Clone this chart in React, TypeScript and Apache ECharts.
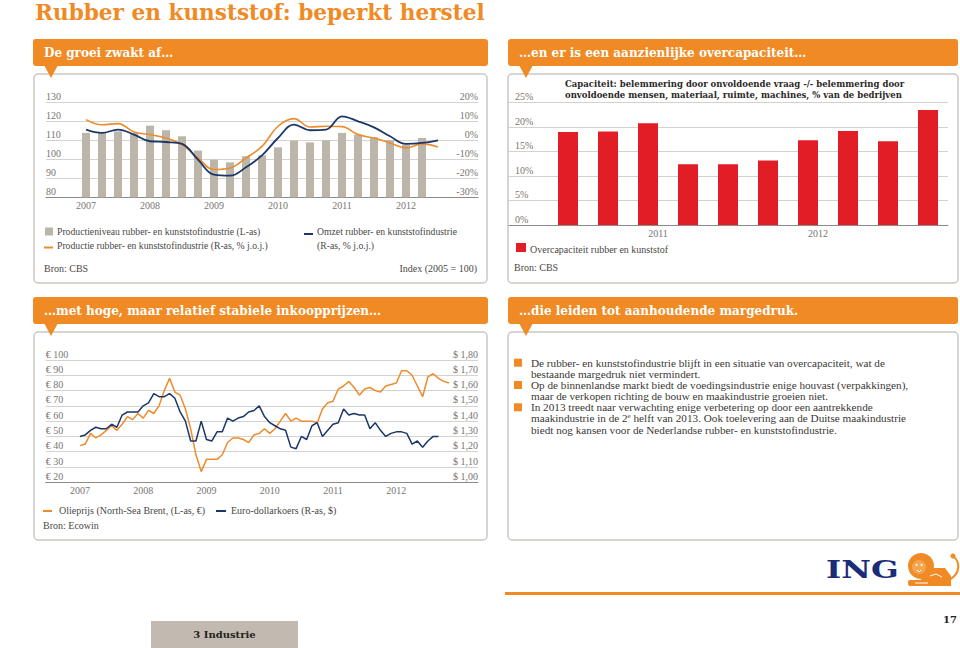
import React, { useEffect, useRef } from "react";
import * as echarts from "echarts";

const ORANGE = "#F08A24";
const NAVY = "#1B3668";
const LINE_ORANGE = "#EE8B2C";
const GRAY_BAR = "#BCB5AA";
const RED = "#E31D25";
const GRID = "#D4D2CE";
const AXIS = "#8E8A84";
const LABEL = "#777470";
const TEXT = "#4A4845";
const SERIF = "'Liberation Serif', 'Times New Roman', serif";
const SLAB = "'DejaVu Serif', serif";

// Panel 1: productie & omzet rubber- en kunststofindustrie
const quarters1 = [
  "2007Q1", "2007Q2", "2007Q3", "2007Q4",
  "2008Q1", "2008Q2", "2008Q3", "2008Q4",
  "2009Q1", "2009Q2", "2009Q3", "2009Q4",
  "2010Q1", "2010Q2", "2010Q3", "2010Q4",
  "2011Q1", "2011Q2", "2011Q3", "2011Q4",
  "2012Q1", "2012Q2", "2012Q3",
];
const productionIndex = [
  113.9, 113.9, 114.7, 113.9, 117.7, 115.3, 112.1, 104.6, 99.8, 98.4, 101.6,
  102.1, 106.3, 109.8, 108.9, 110.0, 113.9, 113.0, 111.6, 110.0, 107.7, 111.2,
];
const productionYoY = [
  10.9, 8.2, 8.8, 4.4, 3.0, 1.2, -2.3, -9.3, -15.4, -14.6, -9.3, -3.2, 7.4,
  11.4, 7.0, 7.4, 7.2, 3.0, 1.2, -1.4, -4.0, -1.9, -3.5,
];
const turnoverYoY = [
  5.6, 3.9, 5.6, 3.0, -0.5, -0.9, -1.9, -10.2, -18.1, -18.6, -14.2, -7.9, 1.2,
  8.2, 5.3, 5.6, 12.6, 10.0, 6.8, 2.1, -1.9, -1.4, 0.0,
];

// Panel 2: overcapaciteit
const quarters2 = [
  "2010Q3", "2010Q4", "2011Q1", "2011Q2", "2011Q3",
  "2011Q4", "2012Q1", "2012Q2", "2012Q3", "2012Q4",
];
const overcapacity = [19.0, 19.1, 20.8, 12.4, 12.4, 13.2, 17.3, 19.2, 17.1, 23.5];

// Panel 3: olieprijs en euro-dollarkoers (maandelijks vanaf jan 2007)
const years3 = ["2007", "2008", "2009", "2010", "2011", "2012"];
const months3 = ["01", "02", "03", "04", "05", "06", "07", "08", "09", "10", "11", "12"];
const oilPriceEur = [
  44, 45, 52, 49, 51, 54, 57, 54, 58, 63, 61, 65,
  62, 67, 65, 70, 80, 88, 79, 77, 68, 55, 38, 27,
  35, 35, 35, 38, 46, 49, 49, 48, 46, 51, 52, 55,
  52, 55, 60, 65, 60, 62, 60, 60, 60, 59, 68, 72,
  73, 81, 83, 86, 82, 77, 81, 82, 80, 79, 83, 84,
  85, 93, 93, 90, 83, 76, 89, 91, 88, 86, 85,
];
const eurUsd = [
  1.30, 1.31, 1.34, 1.36, 1.35, 1.35, 1.38, 1.36, 1.44, 1.46, 1.46, 1.46,
  1.50, 1.52, 1.58, 1.56, 1.56, 1.58, 1.55, 1.46, 1.40, 1.27, 1.27, 1.40,
  1.28, 1.27, 1.33, 1.33, 1.42, 1.40, 1.42, 1.43, 1.46, 1.47, 1.50, 1.43,
  1.39, 1.37, 1.35, 1.34, 1.23, 1.22, 1.30, 1.28, 1.37, 1.39, 1.30, 1.34,
  1.38, 1.39, 1.48, 1.44, 1.45, 1.44, 1.44, 1.35, 1.39, 1.34, 1.30, 1.32,
  1.33, 1.33, 1.32, 1.25, 1.27, 1.23, 1.27, 1.30, 1.30,
];

const bullets = [
  ["De rubber- en kunststofindustrie blijft in een situatie van overcapaciteit, wat de",
   "bestaande margedruk niet vermindert."],
  ["Op de binnenlandse markt biedt de voedingsindustrie enige houvast (verpakkingen),",
   "maar de verkopen richting de bouw en maakindustrie groeien niet."],
  ["In 2013 treedt naar verwachting enige verbetering op door een aantrekkende",
   "maakindustrie in de 2{sup|e} helft van 2013. Ook toelevering aan de Duitse maakindustrie",
   "biedt nog kansen voor de Nederlandse rubber- en kunststofindustrie."],
];

function padCats(prefix: string, cats: string[], before: number, after: number) {
  const out: string[] = [];
  for (let i = 0; i < before; i++) out.push(prefix + "a" + i);
  cats.forEach((c) => out.push(c));
  for (let i = 0; i < after; i++) out.push(prefix + "b" + i);
  return out;
}
function padData(arr: (number | null)[], before: number, total: number) {
  const out: (number | null)[] = [];
  for (let i = 0; i < before; i++) out.push(null);
  arr.forEach((v) => out.push(v));
  while (out.length < total) out.push(null);
  return out;
}

function txt(x: number, y: number, text: string, o: any = {}) {
  return {
    type: "text",
    x,
    y,
    z: 50,
    scaleX: o.scaleX ?? 1,
    style: {
      text,
      fill: o.fill ?? TEXT,
      fontSize: o.size ?? 10,
      fontFamily: o.family ?? SERIF,
      fontWeight: o.weight ?? "normal",
      align: o.align ?? "left",
      verticalAlign: o.valign ?? "middle",
      lineHeight: o.lineHeight,
      rich: o.rich,
    },
  };
}

function header(x: number, y: number, w: number, title: string) {
  const tip = x + 18;
  return [
    { type: "rect", z: 40, shape: { x, y, width: w, height: 27, r: 3 }, style: { fill: ORANGE } },
    {
      type: "polygon",
      z: 40,
      shape: { points: [[tip - 7, y + 26], [tip + 7, y + 26], [tip, y + 39]] },
      style: { fill: ORANGE },
    },
    txt(x + 11, y + 14, title, { fill: "#fff", size: 12, family: SLAB, weight: "bold" }),
  ];
}

function box(x: number, y: number, w: number, h: number) {
  return {
    type: "rect",
    z: 30,
    shape: { x, y, width: w, height: h, r: 4 },
    style: { fill: null, stroke: "#CCC8C1", lineWidth: 1.5 },
  };
}

export default function App() {
  const ref = useRef<HTMLDivElement>(null);

  useEffect(() => {
    if (!ref.current) return;
    const chart = echarts.init(ref.current, null, { renderer: "svg" });

    const cats1 = padCats("p1", quarters1, 2, 2);
    const cats2 = padCats("p2", quarters2, 1, 0);
    const months: string[] = [];
    years3.forEach((y) => months3.forEach((m) => months.push(y + "-" + m)));
    const cats3 = padCats("p3", months.slice(0, oilPriceEur.length), 6, 5);

    const labelBase = { color: LABEL, fontSize: 10, fontFamily: SERIF };

    const yLeft = (gridIndex: number, min: number, max: number, interval: number, fmt: any, margin = 0) => ({
      type: "value",
      gridIndex,
      min,
      max,
      interval,
      position: "left",
      axisLine: { show: false },
      axisTick: { show: false },
      axisLabel: { ...labelBase, inside: true, margin, align: "left", verticalAlign: "bottom", padding: [0, 0, 1, 0], formatter: fmt },
      splitLine: { show: true, lineStyle: { color: GRID, width: 1 } },
    });
    const yRight = (gridIndex: number, min: number, max: number, interval: number, fmt: any) => ({
      type: "value",
      gridIndex,
      min,
      max,
      interval,
      position: "right",
      axisLine: { show: false },
      axisTick: { show: false },
      axisLabel: { ...labelBase, inside: true, margin: 0, align: "right", verticalAlign: "bottom", padding: [0, 0, 1, 0], formatter: fmt },
      splitLine: { show: false },
    });

    const graphics: any[] = [
      txt(35, 12.5, "Rubber en kunststof: beperkt herstel", { fill: ORANGE, size: 21.6, family: SLAB, weight: "bold" }),
      box(34, 74, 453, 209),
      box(508, 74, 450, 209),
      box(34, 332, 453, 208),
      box(508, 332, 450, 208),
      ...header(33, 39, 455, "De groei zwakt af…"),
      ...header(508, 39, 450, "…en er is een aanzienlijke overcapaciteit…"),
      ...header(33, 297, 455, "…met hoge, maar relatief stabiele inkoopprijzen…"),
      ...header(508, 297, 450, "…die leiden tot aanhoudende margedruk."),
      // panel 1 legend
      { type: "rect", z: 50, shape: { x: 45, y: 227.5, width: 8, height: 8 }, style: { fill: GRAY_BAR } },
      txt(57, 231.5, "Productieniveau rubber- en kunststofindustrie (L-as)", { size: 9.7 }),
      { type: "line", z: 50, shape: { x1: 44, y1: 247.5, x2: 53, y2: 247.5 }, style: { stroke: LINE_ORANGE, lineWidth: 2 } },
      txt(57, 245.5, "Productie rubber- en kunststofindustrie (R-as, % j.o.j.)", { size: 9.7 }),
      { type: "line", z: 50, shape: { x1: 304, y1: 234, x2: 313, y2: 234 }, style: { stroke: NAVY, lineWidth: 2 } },
      txt(317, 231.5, "Omzet rubber- en kunststofindustrie", { size: 9.7 }),
      txt(317, 245.5, "(R-as, % j.o.j.)", { size: 9.7 }),
      txt(44, 268, "Bron: CBS"),
      txt(477, 268, "Index (2005 = 100)", { align: "right" }),
      // panel 2 title + legend
      txt(565, 78, "Capaciteit: belemmering door onvoldoende vraag -/- belemmering door\nonvoldoende mensen, materiaal, ruimte, machines, % van de bedrijven", {
        size: 8.5, family: SLAB, weight: "bold", fill: "#2A2826", valign: "top", lineHeight: 11.5,
      }),
      { type: "rect", z: 50, shape: { x: 516, y: 243, width: 10, height: 9 }, style: { fill: RED } },
      txt(530, 249, "Overcapaciteit rubber en kunststof"),
      txt(514, 267, "Bron: CBS"),
      // panel 3 legend
      { type: "line", z: 50, shape: { x1: 43, y1: 511, x2: 52, y2: 511 }, style: { stroke: LINE_ORANGE, lineWidth: 2 } },
      txt(59, 510, "Olieprijs (North-Sea Brent, (L-as, €)"),
      { type: "line", z: 50, shape: { x1: 216, y1: 511, x2: 226, y2: 511 }, style: { stroke: NAVY, lineWidth: 2 } },
      txt(231, 510, "Euro-dollarkoers (R-as, $)"),
      txt(43, 525, "Bron: Ecowin"),
      // footer
      { type: "rect", z: 50, shape: { x: 505, y: 592, width: 455, height: 3 }, style: { fill: ORANGE } },
      txt(957, 619, "17", { align: "right", size: 10, family: SLAB, weight: "bold", fill: "#222" }),
      { type: "rect", z: 50, shape: { x: 151, y: 621, width: 147, height: 27 }, style: { fill: "#C2BAB0" } },
      txt(224.5, 634, "3 Industrie", { align: "center", size: 10, family: SLAB, weight: "bold", fill: "#222" }),
      // ING logo
      txt(826, 569, "ING", { size: 25, family: SLAB, weight: "bold", fill: "#1A2C78", scaleX: 1.3 }),
      { type: "circle", z: 50, shape: { cx: 921, cy: 566, r: 13 }, style: { fill: ORANGE } },
      { type: "polygon", z: 50, shape: { points: [[926, 568], [945, 568], [951, 576], [951, 586], [918, 586]] }, style: { fill: ORANGE } },
      { type: "rect", z: 50, shape: { x: 908, y: 580, width: 22, height: 6, r: 2 }, style: { fill: ORANGE } },
      { type: "bezierCurve", z: 50, shape: { x1: 949, y1: 580, x2: 954, y2: 557, cpx1: 962, cpy1: 573, cpx2: 959, cpy2: 561 }, style: { stroke: ORANGE, lineWidth: 2, fill: null } },
      { type: "circle", z: 50, shape: { cx: 953, cy: 556, r: 2.5 }, style: { fill: ORANGE } },
      { type: "circle", z: 51, shape: { cx: 919, cy: 567, r: 7 }, style: { fill: "#F4A552" } },
      { type: "circle", z: 52, shape: { cx: 916.5, cy: 565, r: 1 }, style: { fill: "#fff" } },
      { type: "circle", z: 52, shape: { cx: 921.5, cy: 565, r: 1 }, style: { fill: "#fff" } },
      { type: "polyline", z: 52, shape: { points: [[917, 570], [919, 572], [921, 570]] }, style: { stroke: "#fff", lineWidth: 1, fill: null } },
      { type: "polyline", z: 52, shape: { points: [[930, 576], [936, 574], [942, 577]] }, style: { stroke: "#fff", lineWidth: 1, fill: null } },
      { type: "line", z: 52, shape: { x1: 915, y1: 583, x2: 928, y2: 583 }, style: { stroke: "#fff", lineWidth: 1 } },
    ];

    // panel 4 bullets: one text block per bullet
    const LH = 11.1;
    const bulletTops = [362.7, 385, 407.3];
    bullets.forEach((b, i) => {
      graphics.push({ type: "rect", z: 50, shape: { x: 514, y: bulletTops[i] - 4, width: 8, height: 8 }, style: { fill: ORANGE } });
      graphics.push(
        txt(531, bulletTops[i] - LH / 2, b.join("\n"), {
          size: 11.2,
          fill: "#3A3835",
          valign: "top",
          lineHeight: LH,
          rich: { sup: { fontSize: 7, fontFamily: SERIF, fill: "#3A3835", lineHeight: LH, verticalAlign: "top", padding: [0, 0, 4, 0] } },
        })
      );
    });

    const option: any = {
      animation: false,
      backgroundColor: "#ffffff",
      grid: [
        { left: 46, top: 102.3, width: 432, height: 95, containLabel: false, outerBoundsMode: "none" },
        { left: 508, top: 102.7, width: 440, height: 122.3, containLabel: false, outerBoundsMode: "none" },
        { left: 45.7, top: 360, width: 432.3, height: 122.3, containLabel: false, outerBoundsMode: "none" },
      ],
      xAxis: [
        {
          type: "category",
          gridIndex: 0,
          data: cats1,
          boundaryGap: true,
          axisTick: { show: false },
          axisLine: { onZero: false, lineStyle: { color: AXIS, width: 1 } },
          axisLabel: { ...labelBase, margin: 3, interval: (_i: number, v: string) => v.endsWith("Q1"), formatter: (v: string) => v.slice(0, 4) },
          splitLine: { show: false },
        },
        {
          type: "category",
          gridIndex: 1,
          data: cats2,
          boundaryGap: true,
          axisTick: { show: false },
          axisLine: { onZero: false, lineStyle: { color: AXIS, width: 1 } },
          axisLabel: { ...labelBase, margin: 3, padding: [0, 0, 0, 20], interval: (_i: number, v: string) => v.endsWith("Q1"), formatter: (v: string) => v.slice(0, 4) },
          splitLine: { show: false },
        },
        {
          type: "category",
          gridIndex: 2,
          data: cats3,
          boundaryGap: true,
          axisTick: { show: false },
          axisLine: { onZero: false, lineStyle: { color: AXIS, width: 1 } },
          axisLabel: { ...labelBase, margin: 3, interval: (_i: number, v: string) => v.endsWith("-01"), formatter: (v: string) => v.slice(0, 4) },
          splitLine: { show: false },
        },
      ],
      yAxis: [
        yLeft(0, 80, 130, 10, (v: number) => String(v)),
        yRight(0, -30, 20, 10, (v: number) => v + "%"),
        yLeft(1, 0, 25, 5, (v: number) => v + "%", 7),
        yLeft(2, 20, 100, 10, (v: number) => "€ " + v),
        yRight(2, 1.0, 1.8, 0.1, (v: number) => "$ " + v.toFixed(2).replace(".", ",")),
      ],
      series: [
        {
          name: "Productieniveau",
          type: "bar",
          xAxisIndex: 0,
          yAxisIndex: 0,
          barWidth: 8,
          data: padData(productionIndex, 2, cats1.length),
          itemStyle: { color: GRAY_BAR },
        },
        {
          name: "Productie",
          type: "line",
          xAxisIndex: 0,
          yAxisIndex: 1,
          smooth: 0.4,
          symbol: "none",
          data: padData(productionYoY, 2, cats1.length),
          lineStyle: { color: LINE_ORANGE, width: 1.6 },
          z: 3,
        },
        {
          name: "Omzet",
          type: "line",
          xAxisIndex: 0,
          yAxisIndex: 1,
          smooth: 0.4,
          symbol: "none",
          data: padData(turnoverYoY, 2, cats1.length),
          lineStyle: { color: NAVY, width: 1.8 },
          z: 4,
        },
        {
          name: "Overcapaciteit",
          type: "bar",
          xAxisIndex: 1,
          yAxisIndex: 2,
          barWidth: 20,
          data: padData(overcapacity, 1, cats2.length),
          itemStyle: { color: RED },
        },
        {
          name: "Olieprijs",
          type: "line",
          xAxisIndex: 2,
          yAxisIndex: 3,
          symbol: "none",
          data: padData(oilPriceEur, 6, cats3.length),
          lineStyle: { color: LINE_ORANGE, width: 1.5 },
        },
        {
          name: "Euro-dollarkoers",
          type: "line",
          xAxisIndex: 2,
          yAxisIndex: 4,
          symbol: "none",
          data: padData(eurUsd, 6, cats3.length),
          lineStyle: { color: NAVY, width: 1.5 },
        },
      ],
      graphic: { elements: graphics },
    };

    chart.setOption(option);
    return () => chart.dispose();
  }, []);

  return (
    <div
      ref={ref}
      style={{ position: "absolute", left: 0, top: 0, width: 960, height: 648, background: "#fff" }}
    />
  );
}
